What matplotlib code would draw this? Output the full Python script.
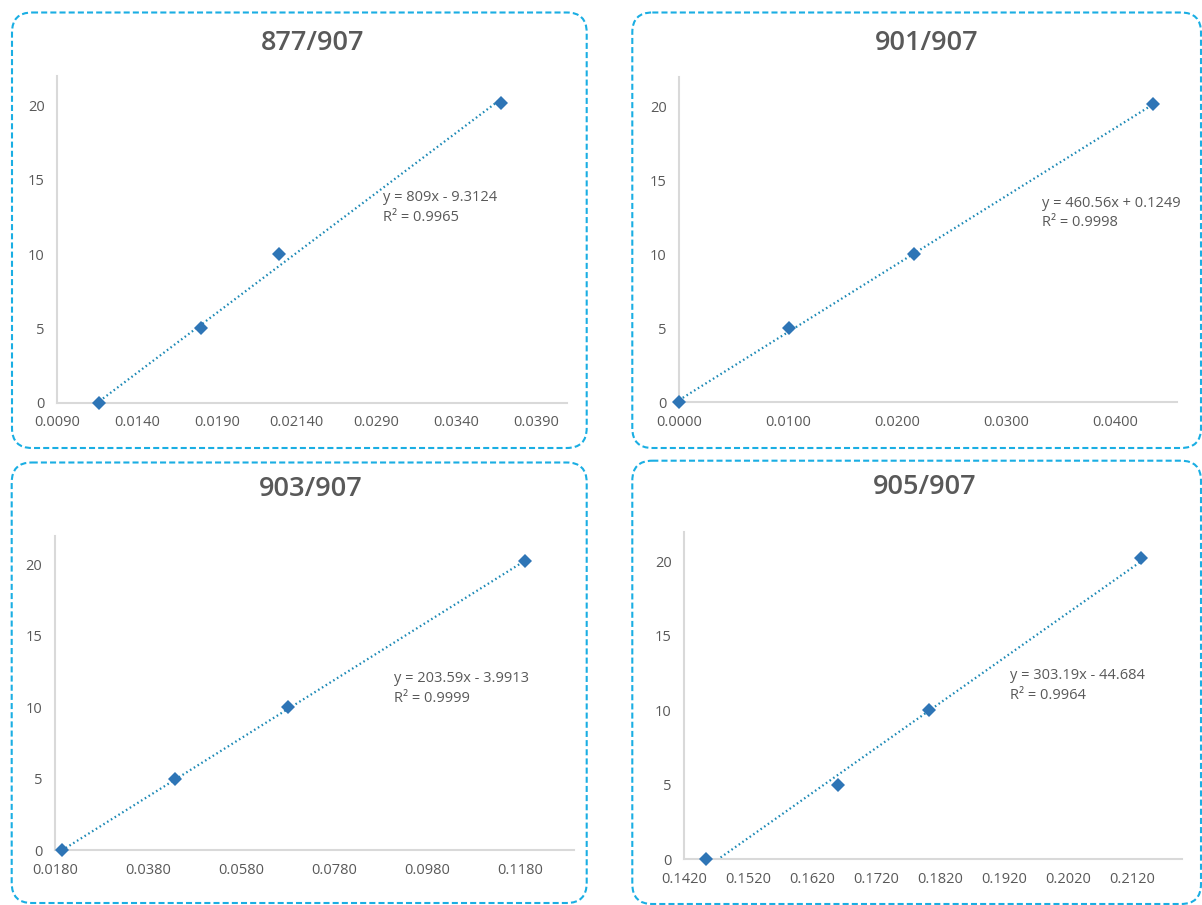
import numpy as np
import matplotlib
matplotlib.use("Agg")
import matplotlib.pyplot as plt
from matplotlib.patches import FancyBboxPatch

plt.rcParams['font.family'] = ['Open Sans', 'DejaVu Sans']

# ---------------- data ----------------
titles = ["877/907", "901/907", "903/907", "905/907"]

x_877 = [0.01164, 0.01797, 0.02287, 0.03676]
y_877 = [0, 5, 10, 20.2]
x_901 = [0.0, 0.01012, 0.02151, 0.04351]
y_901 = [0, 5, 10, 20.2]
x_903 = [0.01949, 0.04387, 0.0680, 0.1190]
y_903 = [0, 5, 10, 20.2]
x_905 = [0.14544, 0.16605, 0.18026, 0.21328]
y_905 = [0, 5, 10, 20.2]

slopes = [809, 460.56, 203.59, 303.19]
intercepts = [-9.3124, 0.1249, -3.9913, -44.684]
eq_texts = ["y = 809x - 9.3124", "y = 460.56x + 0.1249",
            "y = 203.59x - 3.9913", "y = 303.19x - 44.684"]
r2_texts = ["R² = 0.9965", "R² = 0.9998", "R² = 0.9999", "R² = 0.9964"]

xtick_vals = [
    [0.009, 0.014, 0.019, 0.024, 0.029, 0.034, 0.039],
    [0.0, 0.01, 0.02, 0.03, 0.04],
    [0.018, 0.038, 0.058, 0.078, 0.098, 0.118],
    [0.142, 0.152, 0.162, 0.172, 0.182, 0.192, 0.202, 0.212],
]
xtick_labels = [
    ["0.0090", "0.0140", "0.0190", "0.02140", "0.0290", "0.0340", "0.0390"],
    ["0.0000", "0.0100", "0.0200", "0.0300", "0.0400"],
    ["0.0180", "0.0380", "0.0580", "0.0780", "0.0980", "0.1180"],
    ["0.1420", "0.1520", "0.1620", "0.1720", "0.1820", "0.1920", "0.2020", "0.2120"],
]
xlims = [(0.009, 0.0409), (0.0, 0.0457), (0.018, 0.1296), (0.142, 0.2197)]
ylim = (0, 22)
yticks = [0, 5, 10, 15, 20]

series_x = [x_877, x_901, x_903, x_905]
series_y = [y_877, y_901, y_903, y_905]

# ---------------- layout (pixels) ----------------
W, H = 1202, 905
fig = plt.figure(figsize=(W / 100, H / 100), dpi=100)

# overlay axes in pixel coordinates (y down)
bg = fig.add_axes([0, 0, 1, 1], zorder=-1)
bg.set_xlim(0, W)
bg.set_ylim(H, 0)
bg.axis('off')

panel_boxes = [(12, 12.5, 586.7, 448), (632.3, 12.5, 1201, 448),
               (11.7, 462.5, 586.7, 903), (632.3, 460.7, 1201, 904)]
axes_px = [(57.3, 566.7, 76, 402.7), (679, 1177.3, 77, 402),
           (55, 574, 535.7, 850), (684, 1181.7, 531.7, 859)]
title_pos = [(313, 50), (927, 50), (311, 495.7), (925, 494.3)]
eq_pos = [(382.7, 200.7, 220.7), (1041.8, 206.7, 225.5),
          (393.7, 681.7, 701.7), (1010, 679.3, 699.3)]

border_col = '#1aaee3'
text_col = '#595959'
axis_col = '#d9d9d9'
marker_col = '#2e75b6'
trend_col = '#1a88b5'

for (x0, y0, x1, y1) in panel_boxes:
    p = FancyBboxPatch((x0, y0), x1 - x0, y1 - y0,
                       boxstyle="round,pad=0,rounding_size=20",
                       fill=False, edgecolor=border_col, linewidth=1.5,
                       linestyle=(0, (2.9, 1.5)), clip_on=False)
    bg.add_patch(p)

for i in range(4):
    l, r, t, b = axes_px[i]
    ax = fig.add_axes([l / W, 1 - b / H, (r - l) / W, (b - t) / H])
    ax.set_facecolor('none')
    xs = np.array(series_x[i])
    ys = np.array(series_y[i])
    xx = np.array([xs.min(), xs.max()])
    ax.plot(xx, slopes[i] * xx + intercepts[i], color=trend_col,
            linewidth=1.6, linestyle=(0, (0.7, 1.3)), zorder=2)
    ax.plot(xs, ys, linestyle='none', marker='D', markersize=7.5,
            color=marker_col, markeredgewidth=0, zorder=3, clip_on=False)
    ax.set_xlim(*xlims[i])
    ax.set_ylim(*ylim)
    ax.set_xticks(xtick_vals[i])
    ax.set_xticklabels(xtick_labels[i])
    ax.set_yticks(yticks)
    ax.tick_params(length=0, labelsize=10.5, labelcolor=text_col, pad=9)
    for s in ['top', 'right']:
        ax.spines[s].set_visible(False)
    for s in ['left', 'bottom']:
        ax.spines[s].set_color(axis_col)
        ax.spines[s].set_linewidth(1.5)

    tx, ty = title_pos[i]
    fig.text(tx, ty, titles[i], transform=bg.transData, ha='center',
             va='baseline', fontsize=19.5, color=text_col, fontweight='semibold')
    ex, ey1, ey2 = eq_pos[i]
    fig.text(ex, ey1, eq_texts[i], transform=bg.transData, ha='left',
             va='baseline', fontsize=10.5, color=text_col)
    fig.text(ex, ey2, r2_texts[i], transform=bg.transData, ha='left',
             va='baseline', fontsize=10.5, color=text_col)

fig.savefig('out.png', dpi=100, facecolor='white')
